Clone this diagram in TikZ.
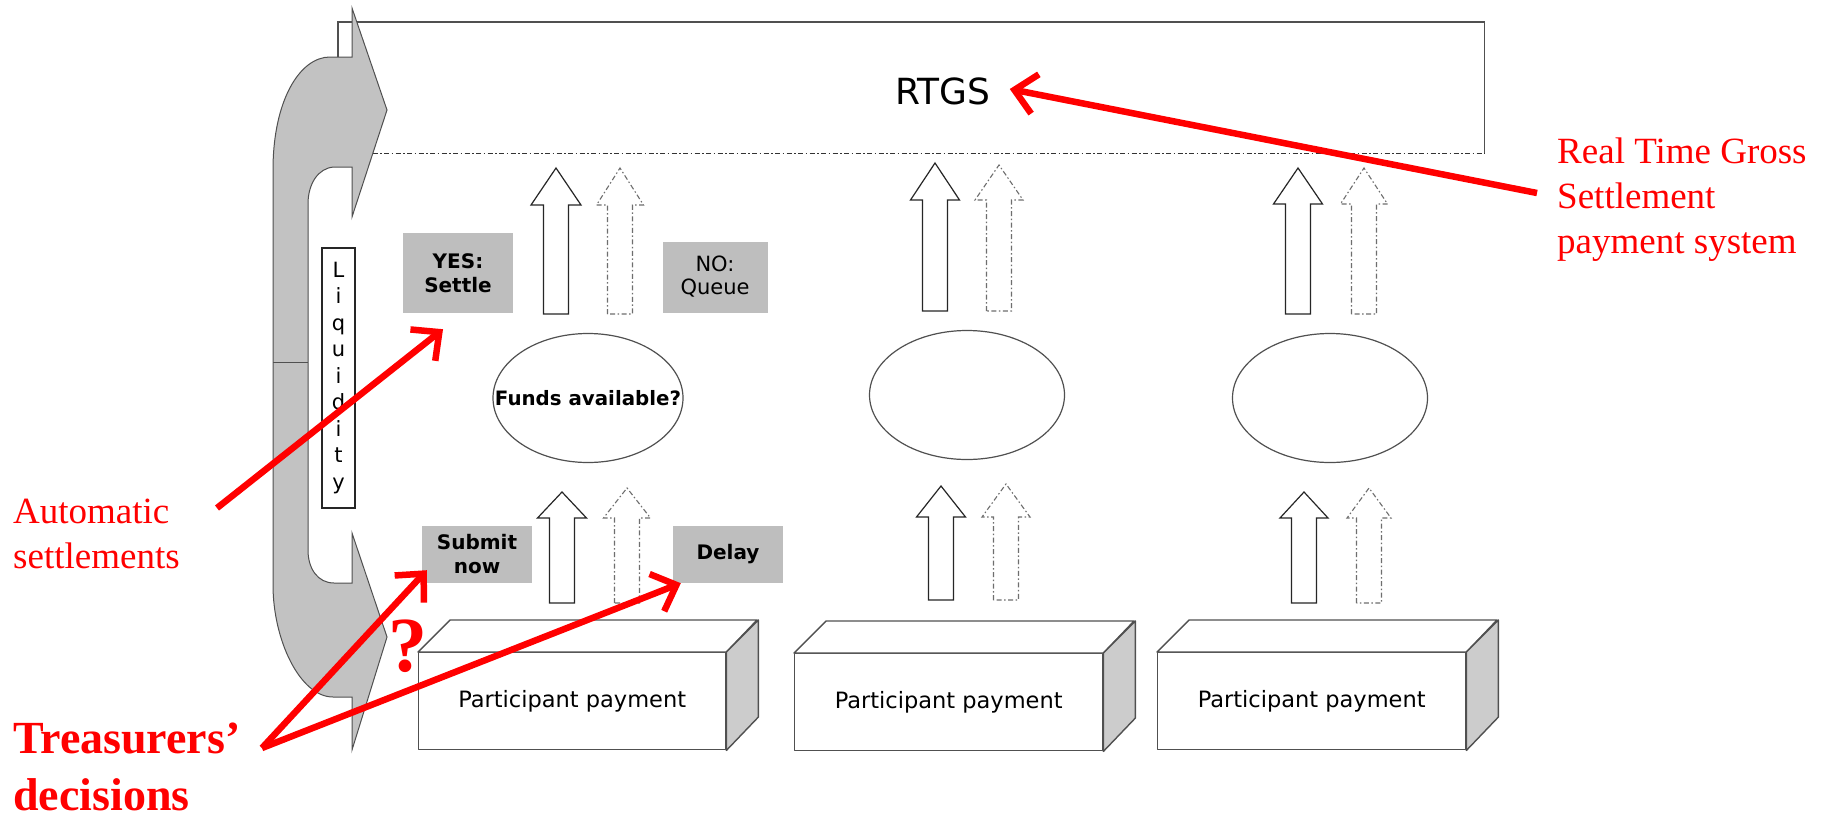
\documentclass[tikz,border=0pt]{standalone}
\usepackage{fontspec}
\setmainfont{Liberation Serif}
\newfontfamily\dvs{DejaVu Sans}
\usetikzlibrary{arrows.meta,shapes.geometric,calc}

\definecolor{bandgrey}{RGB}{194,194,194}
\definecolor{labelgrey}{RGB}{190,190,190}
\definecolor{sidegrey}{RGB}{204,204,204}
\definecolor{edgegrey}{RGB}{80,80,80}
\definecolor{dashgrey}{RGB}{110,110,110}

% hollow upward arrow: style, centre x, tip y, head base y, bottom y, half head width
\newcommand{\hollowup}[6]{%
  \draw[#1] (#2-12.5,#5) -- (#2-12.5,#4) -- (#2-#6,#4) -- (#2,#3)
    -- (#2+#6,#4) -- (#2+12.5,#4) -- (#2+12.5,#5) -- cycle;}

% participant payment block: name, left x, top y, width
\newcommand{\paymentblock}[4]{%
  \node[frontface, minimum width=#4] (#1) at (#2,#3) {Participant payment};
  \draw[blockedge, fill=white] (#1.north west) -- ++(32,-32) -- ++(#4,0)
    -- (#1.north east) -- cycle;
  \draw[blockedge, fill=sidegrey] (#1.north east) -- ++(32,-32) -- ++(0,97)
    -- (#1.south east) -- cycle;}

\begin{document}
\begin{tikzpicture}[x=1pt,y=-1pt,
  blockedge/.style={draw=edgegrey, line width=1.4pt, line join=round},
  frontface/.style={blockedge, fill=white, anchor=north west, minimum height=97pt,
    inner sep=0pt, font=\dvs\fontsize{22.5}{26}\selectfont},
  greylabel/.style={fill=labelgrey, inner sep=0pt, align=center,
    font=\dvs\bfseries\fontsize{20}{24}\selectfont},
  decision/.style={ellipse, draw=edgegrey, line width=1.2pt, inner sep=0pt},
  solidarrow/.style={draw=black!85, line width=1.2pt, fill=white, line join=miter},
  dasharrow/.style={draw=dashgrey, line width=1.1pt, fill=white, line join=miter,
    dash pattern=on 5pt off 2.5pt on 1.5pt off 2.5pt},
  note/.style={text=red, inner sep=0pt, align=left, anchor=base west},
  pointer/.style={draw=red, line width=6.5pt,
    -{Straight Barb[length=21pt, width=40pt]}},
]
\useasboundingbox (0,0) rectangle (1825,817);
\fill[white] (0,0) rectangle (1825,817);

% RTGS system box: solid outline, dash-dot lower edge
\node[minimum width=1146pt, minimum height=131pt, inner sep=0pt, anchor=north west]
  (rtgsbox) at (338,22) {};
\draw[draw=edgegrey, line width=1.3pt] (rtgsbox.south west) -- (rtgsbox.north west)
  -- (rtgsbox.north east) -- (rtgsbox.south east);
\draw[draw=black!80, line width=1.1pt, dash pattern=on 5pt off 2.5pt on 1.5pt off 2.5pt]
  (rtgsbox.south west) -- (rtgsbox.south east);
\node[font=\dvs\fontsize{36}{44}\selectfont, inner sep=0pt] (rtgs) at (943,91) {RTGS};

% liquidity band with its two arrow heads
\path[fill=bandgrey, draw=edgegrey, line width=1pt, line join=miter]
  (352,8) -- (387,110) -- (352,217) -- (352,167) -- (334,167)
  .. controls (318,168) and (308,184) .. (308,204) -- (308,550)
  .. controls (308,569) and (318,583) .. (334,583) -- (352,583)
  -- (352,533) -- (387,637) -- (352,750) -- (352,697) -- (333,697)
  .. controls (300,697) and (273,640) .. (273,585) -- (273,170)
  .. controls (273,100) and (300,57) .. (330,57) -- (352,57) -- cycle;
\draw[draw=edgegrey, line width=1pt] (273,362) -- (308,362);

% liquidity label
\node[draw=black!85, line width=1.2pt, fill=white, minimum width=33pt,
  minimum height=260pt, inner sep=0pt] (liqbox) at (338.5,378) {};
\node[font=\dvs\fontsize{21}{26.5}\selectfont, align=center, inner sep=0pt]
  (liqtext) at (liqbox.center) {L\\i\\q\\u\\i\\d\\i\\t\\y};

% decision labels
\node[greylabel, minimum width=110pt, minimum height=80pt] (yes) at (458,273) {YES:\\Settle};
\node[greylabel, minimum width=105pt, minimum height=71pt,
  font=\dvs\fontsize{21}{23}\selectfont] (no) at (715,277) {NO:\\Queue};
\node[greylabel, minimum width=110pt, minimum height=57pt] (submit) at (477,554.5) {Submit\\now};
\node[greylabel, minimum width=110pt, minimum height=57pt] (delay) at (728,554.5) {Delay};

% funds checks
\node[decision, minimum width=190pt, minimum height=129pt] (check1) at (588,398) {};
\node[font=\dvs\bfseries\fontsize{19.8}{24}\selectfont, inner sep=0pt]
  (check1text) at (check1.center) {Funds available?};
\node[decision, minimum width=195pt, minimum height=129pt] (check2) at (967,395) {};
\node[decision, minimum width=195pt, minimum height=129pt] (check3) at (1330,398) {};

% upper arrows into RTGS
\hollowup{solidarrow}{556}{168}{205}{314}{25}
\hollowup{dasharrow}{620}{168}{205}{314}{23.5}
\hollowup{solidarrow}{935}{163}{200}{311}{24.5}
\hollowup{dasharrow}{999}{165}{200}{311}{24}
\hollowup{solidarrow}{1298}{168}{204}{314}{24.5}
\hollowup{dasharrow}{1364}{168}{204}{314}{23.5}

% lower arrows from payments
\hollowup{solidarrow}{562}{492}{518}{603}{24.5}
\hollowup{dasharrow}{627}{488}{518}{603}{23.5}
\hollowup{solidarrow}{941}{486}{517}{600}{24.5}
\hollowup{dasharrow}{1006}{484}{517}{600}{24}
\hollowup{solidarrow}{1304}{492}{518}{603}{24}
\hollowup{dasharrow}{1369}{488}{518}{603}{22}

% payment blocks
\paymentblock{pay1}{418}{652}{307}
\paymentblock{pay2}{794}{653}{308}
\paymentblock{pay3}{1157}{652}{308}

% annotations (base anchor sits on the last line)
\node[note, font=\fontsize{37}{45}\selectfont] (rtgsnote) at (1557,253)
  {Real Time Gross\\Settlement\\payment system};
\node[note, font=\fontsize{37}{45}\selectfont] (autonote) at (13,568)
  {Automatic\\settlements};
\node[note, font=\bfseries\fontsize{46}{57}\selectfont] (treasnote) at (13,810)
  {Treasurers’\\decisions};
\node[text=red, inner sep=0pt, font=\bfseries\fontsize{78}{78}\selectfont]
  (query) at (408,646) {?};

\coordinate (rtgstail) at (1537,193);
\coordinate (rtgstip) at ($(rtgs.east)+(19,-2)$);
\coordinate (autotail) at (217,508);
\coordinate (autotip) at ($(yes.south)+(-15,16)$);
\coordinate (treastail) at (262,748);
\coordinate (submittip) at ($(submit.south west)+(5,-13)$);
\coordinate (delaytip) at ($(delay.south west)+(8,0)$);

\draw[pointer] (rtgstail) -- (rtgstip);
\draw[pointer] (autotail) -- (autotip);
\draw[pointer] (treastail) -- (submittip);
\draw[pointer] (treastail) -- (delaytip);
\end{tikzpicture}
\end{document}
